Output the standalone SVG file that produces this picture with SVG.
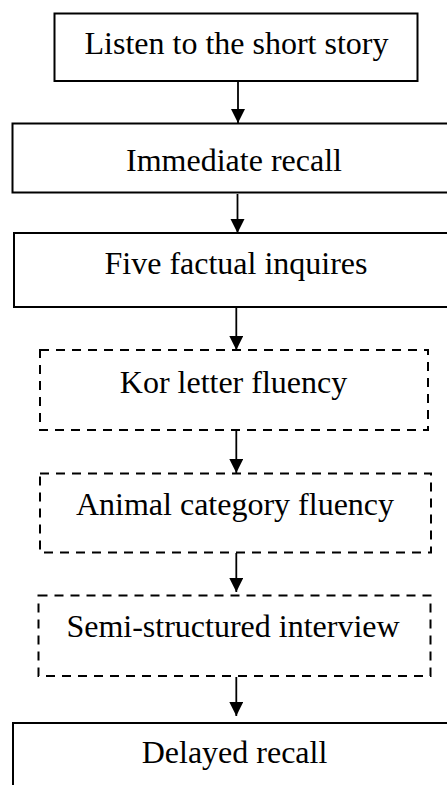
<svg xmlns="http://www.w3.org/2000/svg" width="447" height="785" viewBox="0 0 447 785">
  <style>
    .box { fill: #fff; stroke: #000; stroke-width: 2; }
    .dash { fill: #fff; stroke: #000; stroke-width: 2; stroke-dasharray: 9 7; }
    .lbl { font-family: "Liberation Serif", "Times New Roman", serif; font-size: 32px; fill: #000; text-anchor: middle; }
    .edge { stroke: #000; stroke-width: 1.8; fill: none; marker-end: url(#head); }
  </style>
  <defs>
    <marker id="head" markerUnits="userSpaceOnUse" markerWidth="14" markerHeight="15" refX="14" refY="7" orient="auto">
      <path d="M0,0 L14,7 L0,14 Z" fill="#000"/>
    </marker>
  </defs>
  <rect width="447" height="785" fill="#fff"/>

  <g id="connectors">
    <line class="edge" x1="238" y1="82" x2="238" y2="123"/>
    <line class="edge" x1="237.5" y1="194" x2="237.5" y2="233"/>
    <line class="edge" x1="236.3" y1="308" x2="236.3" y2="350"/>
    <line class="edge" x1="236.3" y1="431" x2="236.3" y2="473"/>
    <line class="edge" x1="236.3" y1="553" x2="236.3" y2="592"/>
    <line class="edge" x1="236.3" y1="677" x2="236.3" y2="716"/>
  </g>

  <g id="listen">
    <rect class="box" x="54.5" y="13.5" width="363" height="67.5"/>
    <text class="lbl" x="236.5" y="54">Listen to the short story</text>
  </g>
  <g id="immediate">
    <rect class="box" x="12.5" y="123.5" width="450" height="69"/>
    <text class="lbl" x="234" y="170.5">Immediate recall</text>
  </g>
  <g id="factual">
    <rect class="box" x="14" y="233" width="450" height="74"/>
    <text class="lbl" x="236" y="273.5">Five factual inquires</text>
  </g>
  <g id="letter">
    <rect class="dash" x="40" y="350" width="388" height="80"/>
    <text class="lbl" x="233.5" y="392.5">Kor letter fluency</text>
  </g>
  <g id="animal">
    <rect class="dash" x="40" y="473.5" width="391" height="79"/>
    <text class="lbl" x="235" y="515">Animal category fluency</text>
  </g>
  <g id="interview">
    <rect class="dash" x="38.5" y="595.5" width="392" height="80.5"/>
    <text class="lbl" x="233" y="636.5">Semi-structured interview</text>
  </g>
  <g id="delayed">
    <rect class="box" x="13" y="723" width="450" height="80"/>
    <text class="lbl" x="234.5" y="763">Delayed recall</text>
  </g>
</svg>
